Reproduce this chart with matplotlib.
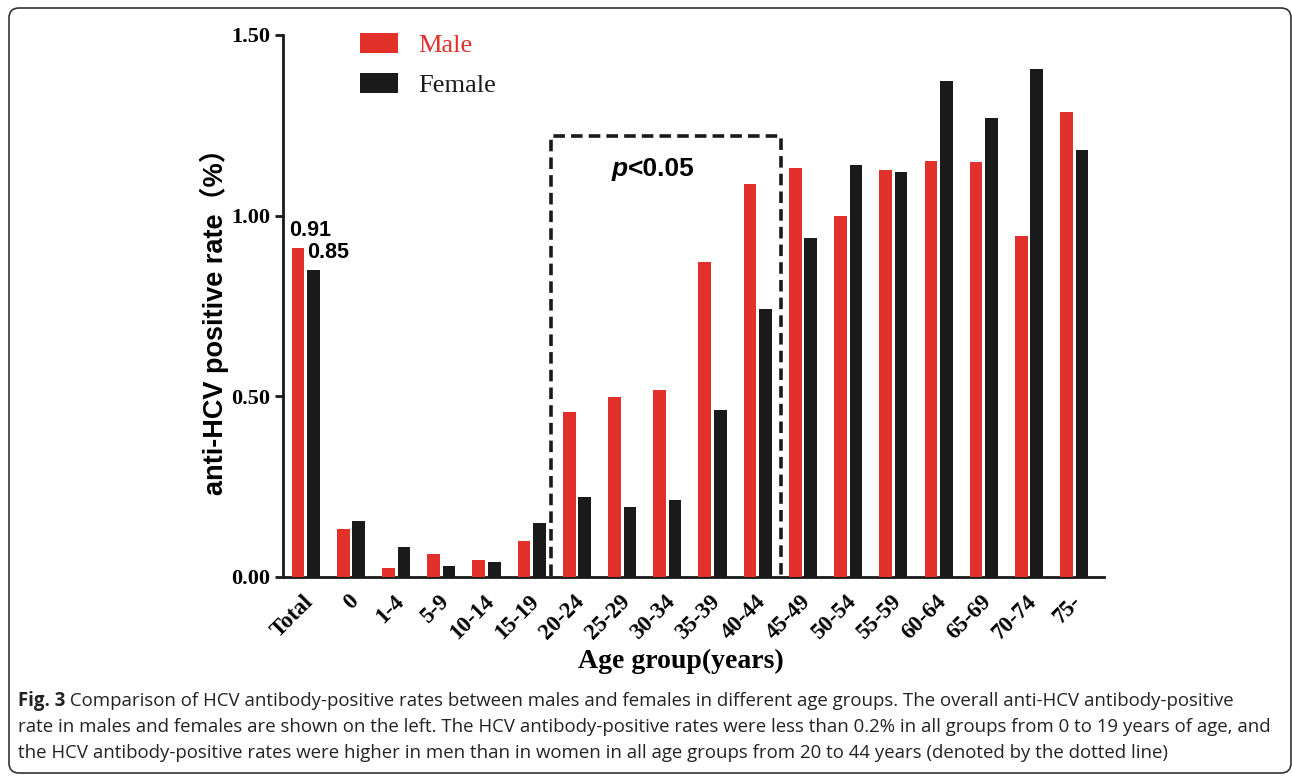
import matplotlib
matplotlib.use("Agg")
import matplotlib.pyplot as plt
import numpy as np
from matplotlib.patches import Patch, FancyBboxPatch
from matplotlib.transforms import ScaledTranslation, IdentityTransform
from matplotlib.ticker import FormatStrFormatter

# ---- data ----
groups = ["Total", "0", "1-4", "5-9", "10-14", "15-19", "20-24", "25-29", "30-34",
          "35-39", "40-44", "45-49", "50-54", "55-59", "60-64", "65-69", "70-74", "75-"]
male = [0.91, 0.133, 0.025, 0.064, 0.047, 0.100, 0.456, 0.498, 0.517,
        0.872, 1.088, 1.132, 0.998, 1.126, 1.151, 1.149, 0.945, 1.288]
female = [0.85, 0.155, 0.084, 0.030, 0.042, 0.150, 0.222, 0.194, 0.213,
          0.463, 0.741, 0.938, 1.141, 1.120, 1.373, 1.271, 1.406, 1.181]
yticks = [0.0, 0.5, 1.0, 1.5]
series_names = ["Male", "Female"]
total_labels = ["0.91", "0.85"]
caption_bold = "Fig. 3"
caption_lines = [
    " Comparison of HCV antibody-positive rates between males and females in different age groups. The overall anti-HCV antibody-positive",
    "rate in males and females are shown on the left. The HCV antibody-positive rates were less than 0.2% in all groups from 0 to 19 years of age, and",
    "the HCV antibody-positive rates were higher in men than in women in all age groups from 20 to 44 years (denoted by the dotted line)",
]

RED = "#E2302A"
BLACK = "#1A1A1A"
SERIF = ["Liberation Serif", "DejaVu Serif"]
SANS = ["Liberation Sans", "Noto Sans CJK SC", "DejaVu Sans"]
CAPF = ["Open Sans", "DejaVu Sans"]

W, H = 1292, 776
fig = plt.figure(figsize=(W / 100, H / 100), dpi=100)
ax = fig.add_axes([283 / W, 1 - 577 / H, (1104 - 283) / W, (577 - 35) / H])

x = np.arange(len(groups))
bw = 0.28
off = 0.171
ax.bar(x - off, male, width=bw, color=RED, label=series_names[0], zorder=3)
ax.bar(x + off, female, width=bw, color=BLACK, label=series_names[1], zorder=3)

ax.set_xlim(-0.503, 17.66)
ax.set_ylim(0, 1.5)
ax.set_yticks(yticks)
ax.yaxis.set_major_formatter(FormatStrFormatter("%.2f"))

for s in ["top", "right"]:
    ax.spines[s].set_visible(False)
for s in ["left", "bottom"]:
    ax.spines[s].set_linewidth(2.0)
    ax.spines[s].set_color(BLACK)

ax.tick_params(axis="y", length=6, width=2, pad=3, color=BLACK)
ax.tick_params(axis="x", length=0, pad=10)
for lab in ax.get_yticklabels():
    lab.set_fontfamily(SERIF)
    lab.set_fontweight("bold")
    lab.set_fontsize(16)
ax.set_xticks(x)
ax.set_xticklabels(groups, rotation=45, ha="right", va="top", rotation_mode="anchor",
                   fontfamily=SERIF, fontweight="bold", fontsize=16.5)
shift = ScaledTranslation(-3 / 100, 0, fig.dpi_scale_trans)
for lab in ax.get_xticklabels():
    lab.set_transform(lab.get_transform() + shift)

ax.set_ylabel("anti-HCV positive rate（%）", family=SANS, fontweight="bold", fontsize=19.5)
ax.yaxis.set_label_coords((229 - 283) / 821, (577 - 315) / 542)
ax.set_xlabel("Age group(years)", family=SERIF, fontweight="bold", fontsize=20)
ax.xaxis.set_label_coords((681 - 283) / 821, (577 - 649) / 542)

# total value labels
ax.text(x[0] - off - bw / 2 - 0.06, male[0] + 0.02, total_labels[0], ha="left", va="bottom",
        family=SANS, fontweight="bold", fontsize=15.5, zorder=4)
ax.text(x[0] + off - bw / 2, female[0] + 0.018, total_labels[1], ha="left", va="bottom",
        family=SANS, fontweight="bold", fontsize=15.5, zorder=4)

# dashed box around 20-44
bx0, bx1, btop = 5.43, 10.52, 1.221
ax.plot([bx0, bx0, bx1, bx1], [0.003, btop, btop, 0.003], color=BLACK, lw=2.6,
        linestyle=(0, (3.2, 1.7)), zorder=5, clip_on=False)
ax.text(7.12, 1.128, "p", ha="right", va="center", family=SANS, fontweight="bold",
        style="italic", fontsize=19)
ax.text(7.12, 1.128, "<0.05", ha="left", va="center", family=SANS, fontweight="bold",
        fontsize=19)

# legend
handles = [Patch(facecolor=RED, edgecolor="none"), Patch(facecolor=BLACK, edgecolor="none")]
leg = ax.legend(handles, series_names, loc="upper left",
                bbox_to_anchor=((360 - 283) / 821, (577 - 33) / 542),
                frameon=False, borderpad=0, borderaxespad=0,
                handlelength=1.44, handleheight=0.76, handletextpad=0.76,
                labelspacing=0.62, prop={"family": SERIF, "size": 19})
leg.get_texts()[0].set_color(RED)
leg.get_texts()[1].set_color(BLACK)

# caption
cap_fs = 13.4
ys = [701, 727, 753]
tb = fig.text(18 / W, 1 - ys[0] / H, caption_bold, family=CAPF,
              fontweight="bold", fontsize=cap_fs, va="center", ha="left", color="#222222")
fig.canvas.draw()
ext = tb.get_window_extent()
fig.text(ext.x1 / W, 1 - ys[0] / H, caption_lines[0], family=CAPF,
         fontsize=cap_fs, va="center", ha="left", color="#222222")
for yy, line in zip(ys[1:], caption_lines[1:]):
    fig.text(18 / W, 1 - yy / H, line, family=CAPF,
             fontsize=cap_fs, va="center", ha="left", color="#222222")

# rounded border
fig.patches.append(FancyBboxPatch((9, H - 773), 1282, 765,
                                  boxstyle="round,pad=0,rounding_size=10",
                                  transform=IdentityTransform(), fill=False,
                                  lw=1.2, ec="#333333"))

fig.savefig("out.png", dpi=100)
